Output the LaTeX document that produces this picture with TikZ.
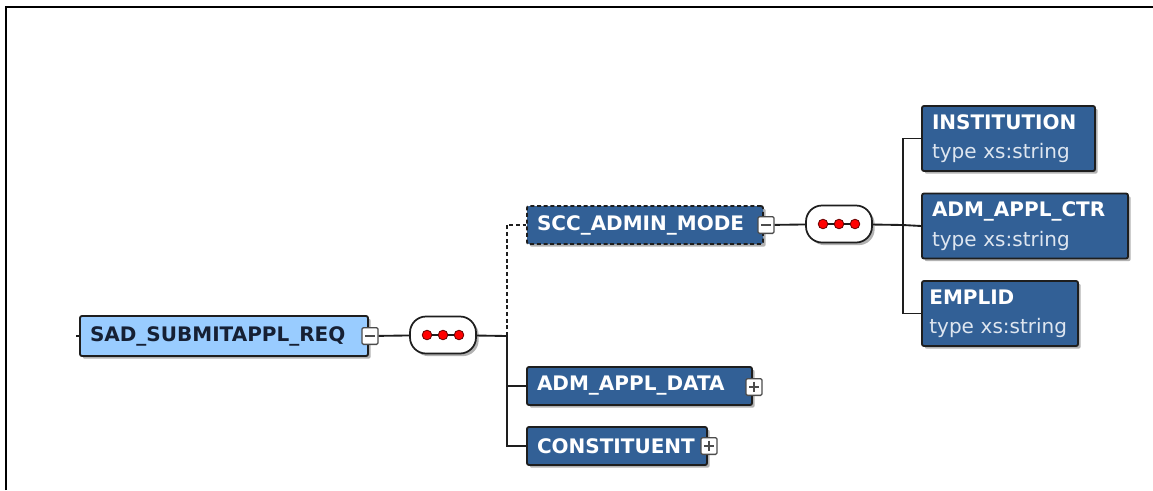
\documentclass[tikz,border=0pt]{standalone}
\usepackage{fontspec}
\setmainfont{DejaVu Sans}
\usetikzlibrary{shadows}

\definecolor{xsdblue}{RGB}{50,96,150}
\definecolor{xsdlight}{RGB}{153,204,255}
\definecolor{xsdink}{RGB}{22,32,52}
\definecolor{xsdtype}{RGB}{222,230,240}
\definecolor{xsdline}{RGB}{30,30,30}

\tikzset{
	elem/.style={draw=xsdline, line width=1.4pt, fill=xsdblue, text=white,
		font=\fontsize{15}{22}\selectfont\bfseries, rounded corners=1.5pt,
		inner xsep=7.5pt, inner ysep=0pt, align=left, minimum height=28.5pt,
		drop shadow={shadow xshift=2pt, shadow yshift=-2pt, fill=black!30, opacity=1}},
	root/.style={elem, fill=xsdlight, text=xsdink, minimum height=30pt},
	typed/.style={elem, minimum height=48.75pt},
	seq/.style={draw=xsdline, line width=1.3pt, fill=white, rounded corners=12pt,
		minimum width=49.5pt, minimum height=27.75pt, inner sep=0pt,
		drop shadow={shadow xshift=2pt, shadow yshift=-2pt, fill=black!30, opacity=1}},
	pmbox/.style={draw=black!70, line width=1pt, fill=white, rounded corners=1pt,
		minimum width=12pt, minimum height=12.5pt, inner sep=0pt},
	minus/.style={pmbox, path picture={
		\draw[line width=1.1pt] ([xshift=2.2pt]path picture bounding box.west) -- ([xshift=-2.2pt]path picture bounding box.east);}},
	plus/.style={pmbox, path picture={
		\draw[line width=1.1pt] ([xshift=2.2pt]path picture bounding box.west) -- ([xshift=-2.2pt]path picture bounding box.east);
		\draw[line width=1.1pt] ([yshift=-2.2pt]path picture bounding box.north) -- ([yshift=2.2pt]path picture bounding box.south);}},
	opt/.style={dash pattern=on 3pt off 2pt}
}

\begin{document}
\begin{tikzpicture}[x=0.75pt,y=-0.75pt,line width=1.4pt,draw=xsdline]
	\useasboundingbox (0,0) rectangle (1153,490);
	\draw[line width=1.5pt,black] (6,490) -- (6,7) -- (1153,7);

	% root and its sequence
	\node[root, text width=201pt] (req) at (224,336) {SAD\_SUBMITAPPL\_REQ};
	\node[minus] (reqpm) at (370,336) {};
	\node[seq] (seqa) at (443,335) {};
	\coordinate (tick) at (76,336);
	\coordinate (ja) at (507,336);

	% children
	\node[elem, opt, text width=162pt] (mode) at (645,225) {SCC\_ADMIN\_MODE};
	\node[minus] (modepm) at (766,225) {};
	\node[elem, text width=153.75pt] (data) at (639.5,386) {ADM\_APPL\_DATA};
	\node[plus] (datapm) at (754,387) {};
	\node[elem, text width=120pt] (const) at (617,446) {CONSTITUENT};
	\node[plus] (constpm) at (709,446) {};

	% SCC_ADMIN_MODE content
	\node[seq] (seqb) at (839,224) {};
	\coordinate (jb) at (903,225);
	\node[typed, text width=114.75pt] (inst) at (1008.5,138.5) {INSTITUTION\\{\mdseries\color{xsdtype}type~xs:string}};
	\node[typed, text width=139.5pt] (ctr) at (1025,226) {ADM\_APPL\_CTR\\{\mdseries\color{xsdtype}type~xs:string}};
	\node[typed, inner xsep=5.5pt, text width=106pt] (emplid) at (1000,313.5) {EMPLID\\{\mdseries\color{xsdtype}type~xs:string}};

	% connectors
	\draw (tick) -- (req.west);
	\draw (reqpm) -- (seqa);
	\draw (seqa) -- (ja);
	\draw[opt] (ja) |- (mode.west);
	\draw (ja) |- (const.west);
	\draw (ja |- data.west) -- (data.west);
	\draw (modepm) -- (seqb);
	\draw (seqb) -- (jb);
	\draw (inst.west) -| (jb) |- (emplid.west);
	\draw (jb) -- (ctr.west);

	% sequence dots
	\foreach \s in {seqa,seqb} {
		\draw[line width=1.2pt] ([xshift=-12pt]\s.center) -- ([xshift=12pt]\s.center);
		\foreach \d in {-12,0,12}
			\filldraw[fill=red, draw=red!40!black, line width=0.6pt] ([xshift=\d pt]\s.center) circle (3.6pt);
	}
\end{tikzpicture}
\end{document}
